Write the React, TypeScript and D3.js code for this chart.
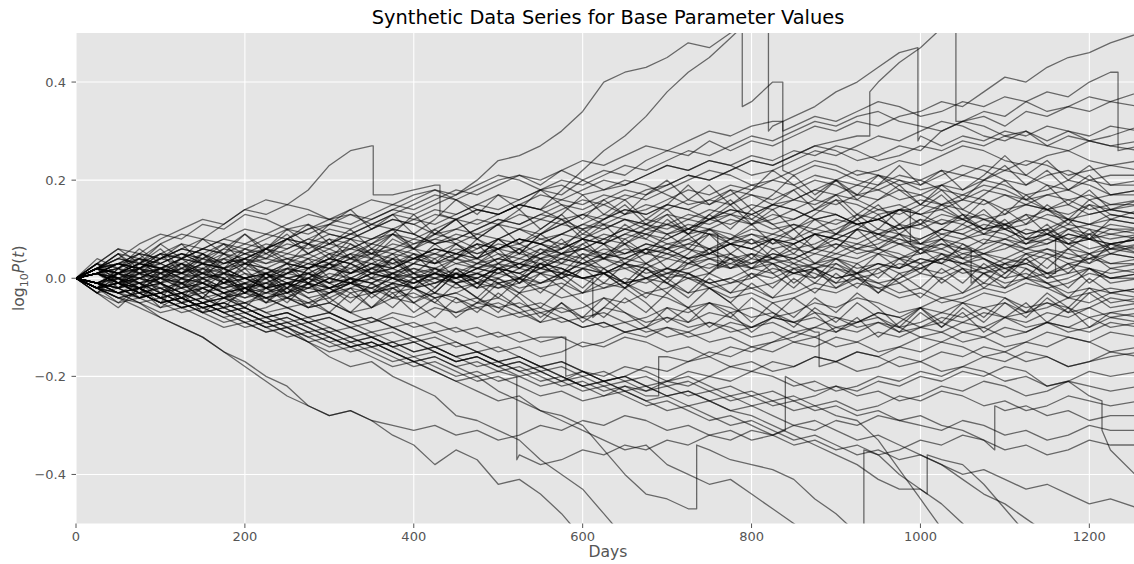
import React from 'react';
import * as d3 from 'd3';

// Sampling grid (days) for every path
const days = [0, 25, 50, 75, 100, 125, 150, 175, 200, 225, 250, 275, 300, 325, 350, 375, 400, 425, 450, 475, 500,
  525, 550, 575, 600, 625, 650, 675, 700, 725, 750, 775, 800, 825, 850, 875, 900, 925, 950, 975, 1000,
  1025, 1050, 1075, 1100, 1125, 1150, 1175, 1200, 1225, 1260];

const xTicks = [0, 200, 400, 600, 800, 1000, 1200];
const yTicks = [-0.4, -0.2, 0.0, 0.2, 0.4];

const N = null;
// log10 P(t), in hundredths; null = outside the visible range
const paths: (number | null)[][] = [
  [0,2,5,4,7,9,8,11,14,16,15,18,23,26,27, 17,18,19, 12,14,13,15,17,16,18, 20,19,21,23,22,24,23,25,24,26, 25,27,26,24,25,27,26,28,27,29, 28,27,29,28,27,28],
  [0,1,3,2,5,4,6,8,7,9,8,10,11,10,12,14,13,15,17,20,24, 25,27,30,34,40,42,43,45,48,47,50, 36,40, 31,33,32,34,36,35,33, 34,36,35,37,36,34,35,37,36,38],
  [0,-1,1,0,2,1,3,2,4,3,5,4,6,8,7,9,8,10,12,11,13, 15,14,18,22,26,29,33,38,42,45,49, 53, 31,33,35,38,40,43,46, 29,27,29,28,30,29,31,30,28,29,31],
  [0,-1,1,3,2,4,3,5,4,6,8,7,9,8,10,12,11,13,12,14,13,15,14,16,15,17, 16,18,19,21,20,22,24,23,25,27,28,29, 40,44,47,51, 32,33,31,34,33,35,34,36,35],
  [0,2,1,3,5,4,6,5,3,4,6,8,7,9,11,10,12,11,13,15,14, 16,18,17,20,22,21,24,26,25,28, 26,28,27,29,31,30,32,31,33,34, 36,35,38,41,40,43,45,46,48,50],
  [0,1,-1,-3,-2,-4,-3,-1,-2,0,1,3,2,4,6,5,7,9,8,10,12, 11,13,15,14,16,18,17,19,21,20, 22,24,23,25,27,26,24,25,27,26, 30,32,34,33,36,38,37,40,42, 27],
  [0,-2,-1,1,0,2,4,3,5,7,6,8,10,9,11,13,12,14,13,15,17, 16,18,20,19,21,23,22,24,26,25, 27,29,28,30,32,31,33,34,32,31, 30,32,31,29,30,28,30,29,31,30],
  [0,3,6,5,8,10,12,11,14,13,15,14,12,13,11,13,15,17,16,18,20, 21,19,22,20,18,19,21,23,22,24, 23,21,22,24,26,25,27,29,28,30, 32,31,29,28,30,27,26,28,27,26],
  [0,-1,-3,-2,0,2,1,3,5,4,3,5,7,6,8,10,9,7,8,6,8, 10,12,11,13,15,17,16,18,20,22, 21,19,20,22,24,23,21,22,24,23, 25,27,26,24,23,25,26,24,23,24],
  [0,2,4,7,9,8,11,10,13,12,10,11,9,8,10,12,11,9,10,12,11, 13,12,14,16,15,13,14,16,18,17, 19,18,20,19,21,20,22,21,19,20, 22,21,23,22,24,23,21,22,23,22],
  [0,-2,-4,-3,-5,-4,-2,-1,1,0,2,1,-1,0,2,4,3,5,4,6,8, 7,9,11,10,12,14,13,15,14,16, 15,17,16,18,20,19,17,18,20,19, 21,23,22,20,19,21,22,20,21,21],
  [0,1,3,2,1,3,5,7,6,8,10,9,11,13,12,14,16,18,17,19,21, 20,18,19,17,18,20,19,17,15,16, 18,17,15,16,18,20,19,21,20,18, 19,21,20,22,21,19,18,20,19,19],
  [0,-1,0,2,3,1,2,0,-2,-1,1,2,4,3,5,4,6,5,7,9,8, 10,9,11,13,12,14,13,15,14,12, 13,15,14,16,18,17,19,18,16,17, 19,18,20,19,17,18,20,19,17,18],
  [0,2,1,3,2,4,6,5,7,6,8,10,12,11,13,15,14,16,18,17,19, 21,20,22,24,23,25,27,26,28,30, 29,31,32, 21,23,22,20,19,21,20,18,17, 19,18,16,17,18,16,17,17],
  [0,-2,-1,-3,-5,-4,-6,-5,-3,-4,-2,0,-1,1,3,2,4,3,5,7,6, 8,7,9,8,10,12,11,13,12,14, 13,11,12,14,16,15,17,16,18,17, 15,16,18,17,15,14,16,17,15,16],
  [0,2,3,5,4,6,8,7,5,6,4,5,7,9,8,10,9,7,8,10,12, 11,13,12,10,11,13,15,14,16,15, 17,19,18,16,15,17,16,14,15,13, 14,16,15,17,16,14,15,13,14,15],
  [0,-1,-2,0,-1,-3,-2,-4,-3,-1,-2,0,2,1,3,2,4,6,5,4,6, 8,7,5,6,8,10,9,11,10,12, 11,13,15,14,12,13,11,12,14, 7,6,8,9,8,10,9,7,8,7,8],
  [0,1,2,1,3,5,4,2,3,1,2,4,3,5,7,6,8,7,9,8,6, 7,5,6,8,7,9,11,10,12,11, 13,12,10,11,9,10,12,14,13,15, 14,12,13,11,12,14,13,15,14,13],
  [0,-2,-3,-1,-2,-4,-6,-5,-7,-6,-4,-5,-3,-1,-2,0,-1,1,0,2,4, 3,5,4,6,5,7,9,8,10,9, 3,2,4,3,5,4,2,3,1,2, 4,3,5,4,6,5,3,4,5,4],
  [0,3,2,4,3,5,3,2,0,1,-1,0,2,1,3,5,4,6,5,3,4, 6,8,7,9,8,10,9,7,8,6, 7,9,8,10,12,11,13,12,14,13, 11,12,10,11,13,12,10,11,12,11],
  [0,1,-1,0,-2,-1,1,0,2,1,3,2,4,3,1,2,0,1,3,2,4, 3,5,7,6,8,7,5,6,4,5, 7,6,8,7,9,8,10,9,11,10, 12,11,9,10,8,9,11,10,9,10],
  [0,2,4,3,5,7,6,8,10,9,11,13,12,14,16,15,17,18, 16,14,13,15,14,12,13,11,10,12,11, 9,10,12,11,13,12,14,13,11,12,10, 11,13,12,10,11,9,10,12,11,10,10],
  [0,-1,1,3,2,4,3,1,0,-2,-1,-3,-2,0,-1,1,3,2,4,3,5, 4,6,5,3,4,2,3,5,4,6, 8,7,9,8,6,7,5,6,8,7, 9,8,10,9,7,8,10,9,8,9],
  [0,-3,-2,-4,-3,-1,-2,-4,-3,-5,-4,-2,-3,-1,0,-2,-1,1,0,2,1, 3,2,4,3,5,4,6,5,3,4, 2,3,5,4,6,8,7,9,8,6, 7,5,6,8,7,9,8,6,7,8],
  [0,2,1,0,2,1,3,2,4,6,5,7,6,4,5,3,4,6,5,7,6, 8,7,5,6,4,5,7,6,8,10, 9,7,8,6,7,9,8,10,9,7, 8,6, 1,3,2,0,1,2,0,1],
  [0,1,0,-2,-1,-3,-1,-2,0,-1,1,0,-2,-1,1,0,2,1,-1,0,2, 1,3,2,0,1,3,5,4,6,5, 7,6,4,5,3,4,6,5,7,6, 8,7,5,6,8,7,9,8,6,7],
  [0,2,4,3,1,2,0,1,3,2,4,3,5,4,2,3,1,2,0,1,3, 2,4,3,5,4,6,5,7,6,4, 5,3,4,6,5,7,6,8,7,5, 6,4,5,7,6,8,7,5,6,6],
  [0,-1,-2,-1,-3,-2,0,1,-1,0,2,1,3,2,0,1,-1,0,2,1,-1, 0,2,1,3,2,4,3,1,2,4, 3,5,4,2,3,5,4,6,5,3, 4,6,5,3,4,6,5,4,6,5],
  [0,1,3,2,4,5,3,4,6,5,3,2,4,3,1,2,4,3,5,4,2, 3,1,2,0,1,3,2,4,3,5, 4,2,3,1,2,4,3,5,4,6, 5,3,4,2,3,5,4,3,5,4],
  [0,-2,-1,1,0,-1,1,0,-2,-1,-3,-2,0,-1,1,0,-2,-1,1,0,2, 1,-1,0,2,1,3,2,0,1,-1, 0,2,1,3,2,0,1,3,2,4, 3,1,2,4,3,1, 10,8,9,8],
  [0,1,-1,-2,0,-1,-3,-2,-4,-3,-1,-2,0,-1,-3,-2,0,1,-1,0,-2, -1,1,0,2,1,-1,0,2,1,3, 2,4,3,1,2,0,1,3,2,4, 3,5,4,2,3,1,2,4,3,3],
  [0,2,1,3,2,0,1,-1,0,2,1,3,2,4,3,1,2,0,1,-1,0, 2,1,3,2,4,3,1,2,0,1, -1,0,2,1,3,2,0,1,3,2, 4,3,1,2,0,1,3,2,1,2],
  [0,-1,-3,-2,-4,-3,-5,-4,-2,-3,-1,-2,0,-1,1,0,-2,-1,1,0,2, 1,3,2,0,1,-1,0,2,1,-1, 0,-2,-1,1,0,2,1,-1,0,2, 1,3,2,0,1,-1,0,2,0,1],
  [0,1,0,2,1,-1,0,-2,-1,1,0,-1,-3,-2,0,-1,1,0,-2,-1,1, 0,-2,-1,-3,-2,0,-1,1,0,-2, -1,1,0,2,1,-1,0,-2,-1,1, 0,2,1,-1,0,-2,-1,1,0,0],
  [0,2,3,1,2,0,-1,1,0,-2,-1,-3,-2,-4,-3,-1,-2,0,-1,1,0, -2,-1,1,0, -6,-7,-9,-8,-10,-9,-11,-10,-8,-9,-7,-8,-10,-9,-11,-10,-8,-9,-7,-8,-10,-9,-11,-10,-8,-9],
  [0,-2,-3,-5,-4,-6,-5,-3,-4,-2,-3,-1,-2,0,-1,-3,-2,-4,-3,-1,-2, 0,-1,1,0,-2,-1,-3,-2,0,-1, -3,-2,-4,-3,-1,-2,0,-1,-3,-2, -4,-3,-1,-2,0,-1,-3,-2,-3,-2],
  [0,1,2,4,3,5,4,6,5,3,4,2,3,1,2,0,1,-1,0,-2,-1, -3,-2,-4,-3,-1,-2,0,-1,-3,-2, -4,-3,-5,-4,-2,-3,-1,-2,-4,-3, -5,-4,-2,-3,-1,-2,-4,-3,-2,-3],
  [0,-1,-2,-4,-3,-5,-4,-6,-5,-7,-6,-8,-7,-9,-8,-10,-9,-11,-10,-12,-11, -13,-12,-12, -19,-21,-20,-18,-19,-17,-16, -14,-15,-13,-12,-10,-11,-9,-8,-10,-9, -7,-8,-6,-5,-7,-6,-4,-5,-3,-4],
  [0,2,1,-1,0,-2,-1,-3,-2,-4,-3,-5,-4,-2,-3,-1,-2,-4,-3,-5,-4, -6,-5,-7,-6,-4,-5,-3,-4,-6,-5, -7,-6,-8,-7,-5,-6,-4,-5,-7,-6, -4,-5,-3,-4,-6,-5,-7,-6,-4,-5],
  [0,-2,-1,0,2,1,3,2,0,1,-1,0,-2,-1,-3,-2,-4,-3,-5,-4,-6, -5,-7,-6,-8,-7,-9,-8,-6,-7,-5, -6,-8,-7,-9,-8,-10,-9,-7,-8,-6, -7,-5,-6,-8,-7,-5,-6,-8,-7,-6],
  [0,1,3,5,4,6,5,3,4,2,0,1,-1,-3,-2,-4,-3,-5,-7,-6,-8, -7,-9,-8,-10,-9,-11,-10,-8,-9,-7, -8,-10,-9,-11,-10,-8,-9,-7,-8,-10, -9,-11,-10,-8,-9,-7,-8,-6,-8,-7],
  [0,-1,-3,-2,-4,-6,-5,-7,-6,-8,-7,-9,-8,-10,-9,-7,-8,-6,-7,-5,-6, -8,-7,-9,-8,-10,-9,-11,-10,-12,-11, -9,-10,-8,-9,-11, -17,-19,-18,-16,-17, -15,-16,-14,-15,-17,-16,-18,-17,-16,-15],
  [0,2,0,-1,1,0,-2,-1,-3,-2,-4,-6,-5,-7,-6,-4,-5,-3,-4,-6,-5, -7,-6,-8,-10,-9,-11,-10,-12,-11,-13, -12,-14,-13,-11,-12,-10,-11,-9,-10,-12, -11,-13,-12,-10,-11,-9,-10,-8,-10,-9],
  [0,-2,-4,-3,-5,-7,-6,-8,-10,-9,-11,-13,-12,-14,-13,-15,-17,-16,-18,-17,-19, -18,-20,-22,-21,-23,-22,-24, -16,-17,-15,-16, -14,-15,-13,-14,-12,-13,-11,-12,-10, -11,-9,-10,-12,-11,-9,-10,-11,-9,-10],
  [0,1,-1,-2,-1,-3,-2,-4,-5,-3,-4,-6,-5,-7,-9,-8,-10,-9,-11,-10,-12, -11,-13,-12,-14,-13,-11,-12,-10,-11,-9, -10,-12,-11,-13,-12,-14,-13,-15,-14,-12, -13,-11,-12,-14,-13,-11,-12,-13,-11,-12],
  [0,-1,0,-2,-4,-3,-5,-4,-6,-8,-7,-9,-8,-10,-12,-11,-13,-12,-14,-13,-15, -14,-16,-15,-13,-14,-12,-13,-15,-14,-16, -18,-17,-19,-18,-16,-17,-15,-16,-14,-15, -13,-14,-16,-15,-13,-14,-12,-13,-15,-14],
  [0,-3,-5,-4,-6,-5,-7,-9,-8,-10,-9,-11,-13,-12,-14,-13,-15,-14,-16,-15,-17, -16,-18,-17,-19,-21,-20,-22,-21,-19,-20, -18,-19,-17,-18,-16,-17,-15,-16,-18,-17, -19,-18,-16,-17,-15,-16,-18,-17,-15,-16],
  [0,-1,-2,-4,-3,-5,-7,-6,-8,-10,-12,-11,-13,-15,-14,-16,-18,-17,-19,-21,-20, -22,-24,-23,-25,-24,-22,-23,-21,-22,-20, -21,-19,-20,-22,-21,-23,-22,-20,-21,-19, -20,-18,-19,-21,-20,-22,-21,-19,-20,-19],
  [0,1,0,-2,-1,-3,-5,-4,-6,-8,-7,-9,-11,-10,-12,-14,-13,-15,-17,-16,-18, -20,-19,-21,-23,-22,-24,-26,-25,-27,-29, -28,-30,-32, -21,-23,-22,-24,-23,-25,-24,-22,-23,-21,-22,-24,-23,-21,-22,-23,-22],
  [0,-2,-3,-5,-7,-6,-8,-10,-9,-11,-10,-12,-14,-13,-15,-17,-16,-18,-20,-19,-21, -20,-22,-21,-19,-20,-18,-19,-21,-20,-22, -24,-23,-25,-24,-26,-25,-27,-26,-24,-25, -23,-24,-26,-25,-27,-26,-24,-25,-26,-25],
  [0,-1,-3,-2,-4,-6,-5,-7,-9,-8,-10,-12,-11,-13,-12,-14,-16,-15,-17,-16,-18, -17,-19,-21,-20,-22,-21,-23,-22,-24,-23, -25,-24,-26,-25,-27,-26,-28,-27,-29,-28, -30,-31,-33, -27,-26,-28,-27,-29,-28,-28],
  [0,-2,-1,-3,-5,-4,-6,-5,-7,-9,-8,-10,-12,-14,-13,-15,-17,-16,-18,-20,-19, -36,-38,-37,-35,-36,-34,-35,-33,-34,-32, -33,-31,-32,-30,-31,-29,-30,-28,-29,-30, -31,-29,-30,-32,-31,-33,-32,-30,-31,-31],
  [0,-2,-4,-6,-8,-10,-12,-15,-18,-21,-24,-26,-28,-27,-29,-30,-31,-30,-32,-31,-33, -32,-30,-31,-29,-30,-28,-29,-31,-30,-32, -31,-33,-32,-34,-33,-35,-34,-36,-35,-33, -34,-32,-33,-35,-34,-36,-35,-33,-34,-34],
  [0,1,-1,-2,-4,-3,-5,-7,-6,-8,-10,-9,-11,-13,-12,-14,-13,-15,-17,-16,-18, -17,-19,-18,-20,-19,-21,-20,-22,-21,-23, -22,-24,-23,-25,-24,-22,-23,-21,-22,-20, -21,-19,-20,-18,-19,-22,-21,-24, -35,-41],
  [0,-2,-4,-5,-8,-10,-12,-15,-17,-20,-22,-26,-28,-27,-29,-32,-34,-38,-35,-37,-42, -41,-44,-48,-53, N,N,N,N,N,N,N,N,N,N,N,N,N,N,N,N,N,N,N,N,N,N,N,N,N,N],
  [0,1,-1,-3,-2,-4,-6,-5,-7,-9,-8,-10,-12,-14,-13,-15,-17,-19,-21,-20,-23, -25,-27,-28,-30,-35,-40,-44,-45,-47, -35,-37,-38,-39,-41,-45,-48,-52, N,N,N,N,N,N,N,N,N,N,N,N,N],
  [0,-1,-3,-2,-4,-6,-5,-7,-9,-11,-10,-13,-16,-18,-17,-20,-22,-24,-28,-29,-31, -33,-37,-40,-43,-48,-53, N,N,N,N,N,N,N,N,N,N,N,N,N,N,N,N,N,N,N,N,N,N,N,N],
  [0,-2,-1,-3,-5,-4,-6,-8,-7,-9,-11,-13,-15,-14,-16,-18,-17,-19,-21,-23,-25, -24,-27,-29,-31,-33,-35,-34,-38,-40,-42, -41,-44,-47,-50,-53,-55,-57, -36,-40,-43,-46,-50,-54, N,N,N,N,N,N,N],
  [0,2,1,-1,0,-2,-1,-3,-5,-4,-6,-8,-7,-9,-11,-10,-12,-14,-13,-15,-17, -16,-18,-20,-22,-21,-23,-25,-24,-26,-25, -27,-28,-30,-32,-34,-36,-38,-41,-43,-43, -37,-38,-42,-47,-52, N,N,N,N,N],
  [0,-1,-2,-1,-3,-5,-4,-6,-5,-7,-9,-8,-10,-12,-11,-13,-12,-14,-16,-15,-17, -19,-18,-20,-22,-21,-23,-22,-24,-23,-25, -24,-26,-25,-27,-26,-28,-29,-33,-39,-45, -51, N,N,N,N,N,N,N,N,N],
  [0,1,3,2,0,1,-1,-3,-2,-4,-6,-5,-7,-9,-8,-10,-12,-11,-13,-15,-14, -16,-18,-17,-19,-21,-20,-22,-24,-23,-25, -27,-26,-28,-30,-29,-31,-33,-32,-34,-36, -38,-41,-44,-46,-49,-52, N,N,N,N],
  [0,-1,-3,-4,-3,-5,-7,-6,-8,-10,-9,-11,-10,-12,-14,-13,-15,-14,-16,-18,-17, -19,-21,-20,-22,-24,-23,-25,-27,-26,-28, -30,-29,-31,-33,-32,-34,-36,-35,-37,-36, -38,-40,-39,-41,-43,-42,-44,-46,-45,-47],
  [0,3,1,2,4,6,5,3,4,6,8,7,5,6,8,9,7,8,10,9,11, 10,8,9,11,13,12,10,11,13,12, 14,13,11,12,14,16,15,13,14,16, 15,17,16,14,15,17,16,14,15,15],
  [0,-2,0,1,-1,0,2,1,3,2,0,1,3,5,4,6,5,3,4,2,3, 5,4,6,8,7,9,8,6,7,9, 8,10,9,11,10,12,11,9,10,12, 11,13,12,10,11,13,12,11,13,12],
  [0,1,3,4,2,3,1,-1,0,-2,-1,1,0,2,4,3,5,4,6,5,7, 6,4,5,7,9,8,10,9,11,10, 8,9,7,8,10,9,11,12,10,11, 9,10,12,11,9,10,8,9,11,10],
  [0,-1,-2,0,1,3,2,4,3,5,7,6,8,7,5,6,4,5,3,4,6, 5,7,6,8,7,5,6,8,10,9, 7,8,6,7,9,8,6,7,9,8, 10,9,7,8,6,7,9,8,7,8],
  [0,2,0,-1,-3,-2,-4,-3,-1,-2,0,-1,1,0,2,1,3,2,0,1,-1, 0,2,1,3,5,4,6,5,7,6, 4,5,3,4,6,5,7,6,4,5, 7,6,8,7,5,6,4,5,7,6],
  [0,1,2,0,-1,1,0,-2,-1,-3,-2,-4,-3,-1,-2,0,-1,1,0,2,1, 3,2,4,3,1,2,0,1,3,2, 4,3,5,4,2,3,1,2,4,3, 5,4,2,3,5,4,6,5,3,4],
  [0,-1,1,2,4,3,1,2,0,1,3,2,4,6,5,7,6,8,7,5,6, 8,7,9,11,10,12,11,9,10,12, 14,13,15,14,12,13,11,12,14,13, 15,14,12,13,15,14,12,13,14,13],
  [0,2,3,1,2,0,-1,-3,-2,-4,-3,-1,-2,0,-1,1,0,2,1,3,2, 4,3,5,4,6,5,7,6,4,5, 7,6,8,7,9,8,10,9,7,8, 10,9,11,10,8,9,7,8,10,9],
  [0,4,2,6,3,1,5,2,6,4,8,5,3,7,4,8,6,10,7,4,8, 5,9,12,8,11,7,10,13,9,12, 15,11,14,10,13,16,12,15,11,14, 17,13,10,14,11,15,12,16,13,12],
  [0,-3,1,-2,2,-1,-4,0,-3,1,-2,2,-1,3,0,4,1,-2,2,-1,3, 0,4,1,5,2,-1,3,0,4,1, 5,2,6,3,0,4,1,5,2,6, 3,7,4,1,5,2,6,3,7,5],
  [0,3,-1,2,5,1,4,7,3,6,9,5,8,4,7,10,6,9,12,8,11, 7,10,13,9,12,15,11,14,10,13, 16,12,15,18,14,17,13,16,19,15, 18,14,17,20,16,19,15,18,14,16],
  [0,-2,2,-1,-4,0,-3,-6,-2,-5,-1,-4,-7,-3,-6,-2,-5,-8,-4,-7,-3, -6,-9,-5,-8,-4,-7,-10,-6,-9,-5, -8,-4,-7,-10,-6,-9,-5,-8,-11,-7, -10,-6,-9,-5,-8,-4,-7,-3,-6,-5],
  [0,2,-2,1,-3,0,3,-1,2,-2,1,4,0,3,6,2,5,1,4,7,3, 6,2,5,8,4,7,3,6,9,5, 8,11,7,10,6,9,12,8,11,7, 10,13,9,12,8,11,7,10,6,9],
  [0,3,0,-3,1,-2,2,-1,3,0,-3,1,-2,-5,-1,-4,0,-3,1,-2,2, -1,3,0,-3,1,-2,2,-1,-4,0, -3,1,-2,2,-1,3,0,-3,1,-2, 2,-1,3,0,4,1,-2,2,-1,0],
  [0,-2,2,5,1,4,8,5,9,6,10,7,11,14,10,13,9,12,16,13,17, 14,18,15,12,16,13,17,20,16,19, 15,18,22,19,16,20,17,21,18,15, 19,16,20,23,19,22,18,21,17,18],
  [0,2,5,2,-1,3,0,4,1,-2,2,-1,3,0,-3,1,-2,2,-1,-4,0, -3,1,-2,2,-1,3,0,-3,1,-2, -5,-1,-4,0,-3,1,-2,2,-1,-4, 0,-3,1,-2,2,-1,-4,0,-3,-2],
  [0,-3,-6,-2,-5,-1,-4,0,-3,1,-2,2,5,1,4,0,3,7,4,8,5, 2,6,3,7,4,8,5,9,6,10, 7,4,8,5,9,6,10,13,9,12, 8,11,14,10,13,9,12,8,12,11],
  [0,2,-1,3,6,2,5,1,4,0,3,-1,2,5,1,4,0,-3,1,-2,2, -1,3,0,4,1,-2,2,-1,3,6, 2,5,1,-2,2,-1,3,0,4,1, 5,2,-1,3,0,4,1,5,2,3],
  [0,-2,1,4,0,3,-1,2,-2,1,-3,0,3,-1,2,5,1,4,0,3,6, 2,5,8,4,7,3,6,2,5,9, 5,8,4,7,3,6,10,6,9,5, 8,4,7,11,7,10,6,9,5,7],
  [0,-3,0,-4,-1,-5,-2,1,-3,0,-4,-1,-5,-2,-6,-3,-7,-4,-8,-5,-1, -4,-8,-5,-9,-6,-2,-5,-9,-6,-10, -7,-11,-8,-4,-7,-11,-8,-12,-9,-6, -10,-7,-11,-8,-5,-9,-6,-10,-7,-8],
  [0,3,6,3,7,4,1,5,2,6,3,7,4,8,5,9,6,3,7,4,8, 5,9,6,10,7,11,8,12,9,13, 10,14,11,8,12,9,13,10,14,11, 15,12,16,13,17,14,11,15,12,14],
  [0,-2,-5,-2,-6,-3,-7,-4,-1,-5,-2,-6,-3,0,-4,-1,-5,-2,2,-1,-4, 0,-3,1,-2,2,-1,-4,0,-3,1, 4,0,3,-1,2,-2,1,-3,0,3, -1,2,-2,1,4,0,3,-1,2,1],
  [0,2,5,1,4,7,3,6,9,5,8,11,7,10,6,9,13,9,12,8,11, 14,10,13,17,13,16,12,15,19,15, 18,14,17,21,17,20,16,19,23,19, 22,18,21,25,21,24,20,23,19,20],
  [0,1,-2,2,-1,-4,0,-3,-6,-2,-5,-1,-4,-7,-3,-6,-2,-5,-1,-4,-7, -3,-6,-2,-5,-8,-4,-7,-3,-6,-2, -5,-9,-5,-8,-4,-7,-3,-6,-10,-6, -9,-5,-8,-4,-7,-3,-6,-2,-5,-4],
];

// Vertical jumps: [path index, day, value before, value after] (hundredths)
const jumps: [number, number, number, number][] = [
  [0, 352, 27, 17], [0, 431, 19, 13],
  [1, 789, 51, 35], [1, 837, 40, 30],
  [2, 820, 55, 30], [2, 997, 47, 28],
  [3, 940, 29, 38], [3, 1042, 53, 32],
  [5, 1234, 42, 26],
  [13, 837, 32, 22],
  [16, 988, 14, 7],
  [18, 760, 9, 2],
  [24, 1060, 6, -1],
  [29, 1160, 1, 8],
  [34, 612, 0, -8],
  [37, 580, -12, -20],
  [41, 880, -11, -18],
  [43, 690, -24, -16],
  [48, 840, -31, -20],
  [50, 1088, -35, -26],
  [51, 522, -20, -37],
  [53, 1215, -25, -31],
  [55, 735, -47, -34],
  [57, 933, -58, -35],
  [58, 1008, -44, -36],
];

const W = 1134;
const H = 564;
const PL = 76, PR = 1140, PT = 33, PB = 523.5;
const FONT = '"DejaVu Sans", Verdana, sans-serif';

type Pt = [number, number | null];

export default function App() {
  const x = d3.scaleLinear().domain([0, 1260]).range([PL, PR]);
  const y = d3.scaleLinear().domain([-0.5, 0.5]).range([PB, PT]);
  const line = d3.line<Pt>()
    .defined(d => d[1] !== null && d[1] !== undefined)
    .x(d => x(d[0]))
    .y(d => y((d[1] as number) / 100));

  const series = paths.map((p, i) => {
    const js = jumps.filter(j => j[0] === i).sort((a, b) => a[1] - b[1]);
    const pts: Pt[] = [];
    let k = 0;
    for (let t = 0; t < days.length; t++) {
      while (k < js.length && js[k][1] < days[t]) {
        pts.push([js[k][1], js[k][2]]);
        pts.push([js[k][1], js[k][3]]);
        k++;
      }
      pts.push([days[t], p[t] ?? null]);
    }
    return line(pts) || '';
  });

  const fmt = (v: number) => (v < 0 ? '\u2212' : '') + Math.abs(v).toFixed(1);

  return (
    <svg width={W} height={H} style={{ position: 'absolute', left: 0, top: 0, background: '#fff' }}
      fontFamily={FONT}>
      <defs>
        <clipPath id="plot">
          <rect x={PL} y={PT} width={PR - PL} height={PB - PT} />
        </clipPath>
      </defs>
      <rect x={PL} y={PT} width={PR - PL} height={PB - PT} fill="#E5E5E5" />
      {xTicks.map(t => (
        <line key={'gx' + t} x1={x(t)} x2={x(t)} y1={PT} y2={PB} stroke="#fff" strokeWidth={1.1} />
      ))}
      {yTicks.map(t => (
        <line key={'gy' + t} x1={PL} x2={PR} y1={y(t)} y2={y(t)} stroke="#fff" strokeWidth={1.1} />
      ))}
      <g clipPath="url(#plot)">
        {series.map((d, i) => (
          <path key={i} d={d} fill="none" stroke="#000" strokeOpacity={0.55} strokeWidth={1.3} strokeLinejoin="round" />
        ))}
      </g>
      {xTicks.map(t => (
        <g key={'tx' + t}>
          <line x1={x(t)} x2={x(t)} y1={PB} y2={PB + 4.5} stroke="#555" strokeWidth={1} />
          <text x={x(t)} y={540.5} textAnchor="middle" fontSize={13} fill="#555">{t}</text>
        </g>
      ))}
      {yTicks.map(t => (
        <g key={'ty' + t}>
          <line x1={PL - 4.5} x2={PL} y1={y(t)} y2={y(t)} stroke="#555" strokeWidth={1} />
          <text x={66} y={y(t) + 4.7} textAnchor="end" fontSize={13} fill="#555">{fmt(t)}</text>
        </g>
      ))}
      <text x={608} y={23.5} textAnchor="middle" fontSize={19.4} fill="#000">
        Synthetic Data Series for Base Parameter Values
      </text>
      <text x={608} y={557} textAnchor="middle" fontSize={15.6} fill="#555">Days</text>
      <text transform={`translate(24, ${(PT + PB) / 2}) rotate(-90)`} textAnchor="middle" fontSize={15.6} fill="#555">
        log<tspan fontSize={11} dy={4}>10</tspan><tspan dy={-4} fontStyle="italic">P</tspan>(<tspan fontStyle="italic">t</tspan>)
      </text>
    </svg>
  );
}
